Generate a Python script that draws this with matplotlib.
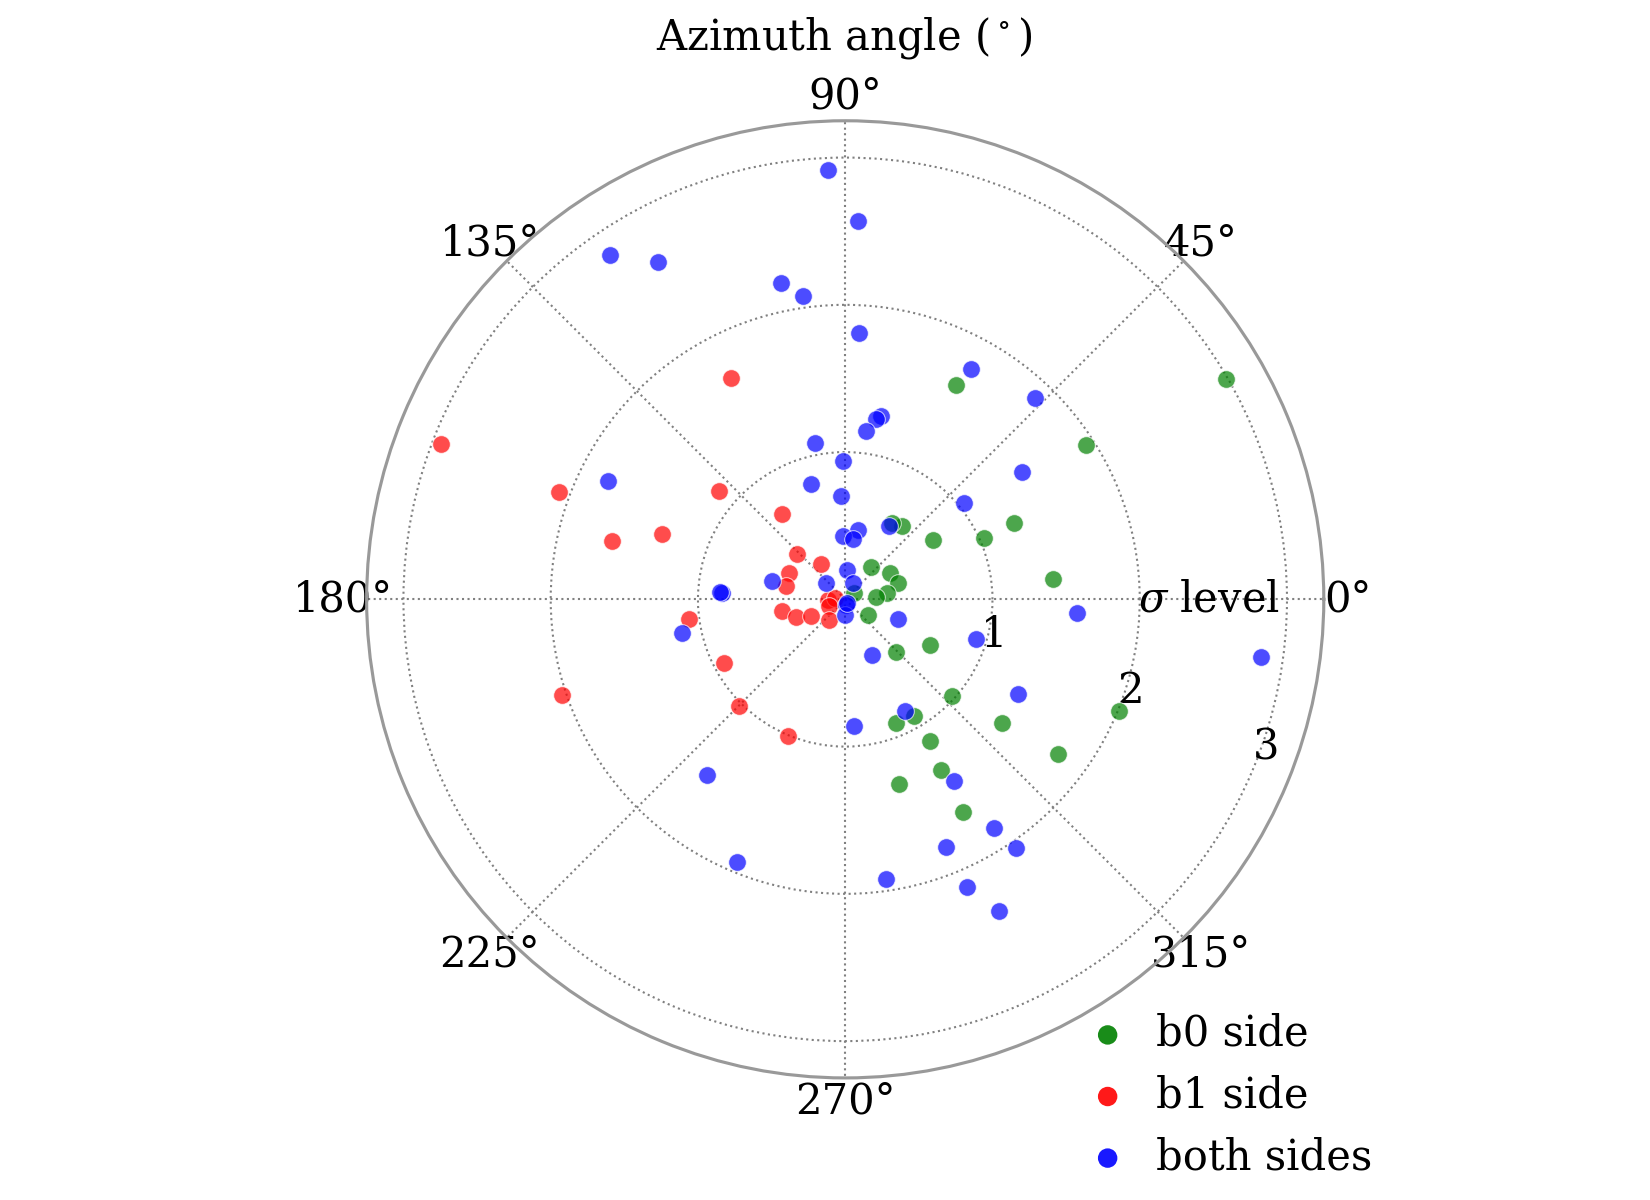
import numpy as np
import matplotlib
matplotlib.use("Agg")
import matplotlib.pyplot as plt

# ---- data (theta in degrees, sigma level) ----
b0_theta = [62.8, 30.1, 32.7, 24.4, 23.8, 34.0, 52.0, 58.4, 5.5, 51.6, 30.2, 16.8, 8.1, 3.6,
            36.0, 325.7, 331.8, 314.0, 317.8, 337.8, 300.5, 292.1, 321.7, 301.0, 324.0, 299.2,
            286.3, 298.9]
b0_r = [1.64, 2.99, 1.94, 1.26, 1.03, 0.72, 0.63, 0.61, 1.42, 0.28, 0.35, 0.375, 0.29, 0.21,
        0.076, 0.19, 0.65, 0.50, 0.98, 2.01, 0.92, 0.91, 1.36, 1.12, 1.79, 1.33,
        1.31, 1.65]

b1_theta = [117.2, 159.0, 159.4, 139.2, 165.9, 160.4, 126.6, 136.4, 154.3, 125.0, 167.0, 182.0,
            174.0, 203.0, 190.6, 199.7, 206.6, 231.4, 187.2, 207.5, 198.7, 225.2, 247.2]
b1_r = [1.69, 2.94, 2.08, 1.13, 1.63, 1.32, 0.72, 0.45, 0.42, 0.29, 0.41, 0.12,
        0.07, 0.12, 0.44, 0.355, 0.26, 0.177, 1.07, 0.93, 2.03, 1.02, 1.01]

both_theta = [92.3, 124.3, 119.0, 101.4, 97.9, 101.0, 153.5, 106.7, 166.0, 177.0, 176.5, 138.6,
              92.2, 39.1, 79.2, 91.8, 82.4, 59.5, 87.3, 64.3, 274.0, 268.0, 339.2, 295.4,
              343.0, 88.0, 87.1, 61.3, 46.7, 35.7, 79.1, 80.2, 83.0, 90.8, 356.7, 352.1,
              331.4, 298.2, 274.1, 301.0, 303.1, 304.4, 292.2, 278.2, 292.9, 296.2, 191.8,
              231.9, 247.6, 300.0]
both_r = [2.92, 2.83, 2.62, 2.19, 2.08, 1.08, 1.80, 0.82, 0.51, 0.84, 0.85, 0.17,
          0.70, 1.04, 0.48, 0.43, 0.41, 0.58, 0.20, 0.125, 0.04, 0.107, 0.38, 0.42,
          0.93, 2.57, 1.81, 1.78, 1.88, 1.48, 1.27, 1.245, 1.15, 0.94, 1.58, 2.85,
          1.34, 0.86, 0.86, 1.44, 1.85, 2.05, 1.82, 1.92, 2.12, 2.36, 1.13,
          1.52, 1.93, 0.03]

labels = ["b0 side", "b1 side", "both sides"]
colors = ["g", "r", "b"]
r_ticks = [1, 2, 3]
theta_ticks = [0, 45, 90, 135, 180, 225, 270, 315]

plt.rcParams["font.family"] = ["DejaVu Serif"]
plt.rcParams["mathtext.fontset"] = "dejavuserif"

fig = plt.figure(figsize=(11, 8), dpi=150)
ax = fig.add_axes([0.2222, 0.1017, 0.5801, 0.7977], projection="polar")

for th, rr, c, lab in zip([b0_theta, b1_theta, both_theta], [b0_r, b1_r, both_r], colors, labels):
    ax.scatter(np.deg2rad(th), rr, s=72, c=c, alpha=0.7, edgecolors=(1, 1, 1, 0.5),
               linewidths=0.5, label=lab, zorder=3)

ax.set_ylim(0, 3.25)
ax.set_yticks(r_ticks)
ax.set_yticklabels([str(t) for t in r_ticks], fontsize=20)
ax.set_rlabel_position(337.5)
ax.set_xticks(np.deg2rad(theta_ticks))
ax.set_xticklabels([f"{t}°" for t in theta_ticks], fontsize=20)
ax.tick_params(axis="x", pad=1)
ax.grid(True, linestyle=":", color="gray", linewidth=1.0)
ax.spines["polar"].set_color("#999999")
ax.spines["polar"].set_linewidth(1.5)

ax.text(0, 2.47, r"$\sigma$ level", ha="center", va="center", fontsize=20)
fig.text(0.5113, 1 - 38 / 1200, r"Azimuth angle $(^\circ)$", ha="center", va="center", fontsize=20)

leg = fig.legend(loc="lower left", bbox_to_anchor=(0.641, -0.006), frameon=False, fontsize=20,
                 handletextpad=0.67, labelspacing=0.47, borderpad=0.2, handlelength=1.0,
                 markerscale=1.1)
for h in leg.legend_handles:
    h.set_alpha(0.9)
    h.set_edgecolor("none")

fig.savefig("out.png", dpi=150)
